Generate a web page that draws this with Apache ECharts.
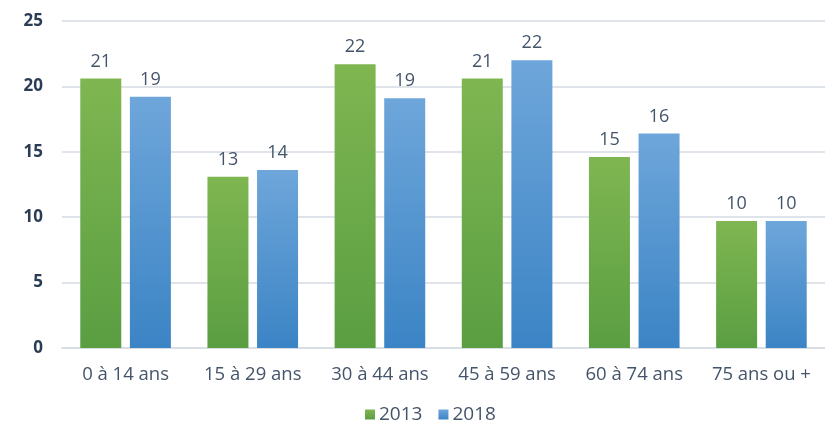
<!DOCTYPE html>
<html>
<head>
<meta charset="utf-8">
<script src="https://cdn.jsdelivr.net/npm/echarts@6/dist/echarts.min.js"></script>
<style>
html,body{margin:0;padding:0;background:#fff;}
#chart{width:825px;height:423px;}
</style>
</head>
<body>
<div id="chart"></div>
<script>
const categories = ['0 à 14 ans', '15 à 29 ans', '30 à 44 ans', '45 à 59 ans', '60 à 74 ans', '75 ans ou +'];
const values2013 = [20.6, 13.1, 21.7, 20.6, 14.6, 9.7];
const values2018 = [19.2, 13.6, 19.1, 22.0, 16.4, 9.7];
const seriesNames = ['2013', '2018'];
const yTicks = [0, 5, 10, 15, 20, 25];

const FONT = '"Open Sans", "Noto Sans", sans-serif';
function grad(top, bottom) {
  return new echarts.graphic.LinearGradient(0, 0, 0, 1, [
    { offset: 0, color: top },
    { offset: 1, color: bottom }
  ]);
}
const labelStyle = {
  show: true,
  position: 'top',
  distance: 8,
  color: '#44546a',
  fontFamily: FONT,
  fontSize: 18,
  formatter: p => Math.round(p.value)
};

const chart = echarts.init(document.getElementById('chart'), null, { renderer: 'canvas' });
chart.setOption({
  animation: false,
  backgroundColor: '#ffffff',
  grid: { left: 62, top: 21, width: 765, height: 327, containLabel: false },
  legend: {
    data: seriesNames,
    top: 400,
    left: 360,
    itemWidth: 10,
    itemHeight: 10,
    itemGap: 16,
    icon: 'rect',
    textStyle: { color: '#44546a', fontFamily: FONT, fontSize: 19, padding: [0, 0, 0, -1] }
  },
  xAxis: {
    type: 'category',
    data: categories,
    axisLine: { show: true, lineStyle: { color: '#d9dde4', width: 2 } },
    axisTick: { show: false },
    axisLabel: { color: '#44546a', fontFamily: FONT, fontSize: 18.5, margin: 17, interval: 0 }
  },
  yAxis: {
    type: 'value',
    min: yTicks[0],
    max: yTicks[yTicks.length - 1],
    interval: 5,
    axisLine: { show: false },
    axisTick: { show: false },
    splitLine: { lineStyle: { color: '#dfe3ea', width: 2 } },
    axisLabel: { color: '#2b3d55', fontFamily: FONT, fontSize: 17, fontWeight: 'bold', margin: 19 }
  },
  series: [
    {
      name: seriesNames[0],
      type: 'bar',
      data: values2013,
      barWidth: 41,
      barGap: '21%',
      itemStyle: { color: grad('#7fb651', '#5a9e42') },
      label: labelStyle
    },
    {
      name: seriesNames[1],
      type: 'bar',
      data: values2018,
      barWidth: 41,
      barGap: '21%',
      itemStyle: { color: grad('#6ea6da', '#3b84c5') },
      label: labelStyle
    }
  ]
});
</script>
</body>
</html>
